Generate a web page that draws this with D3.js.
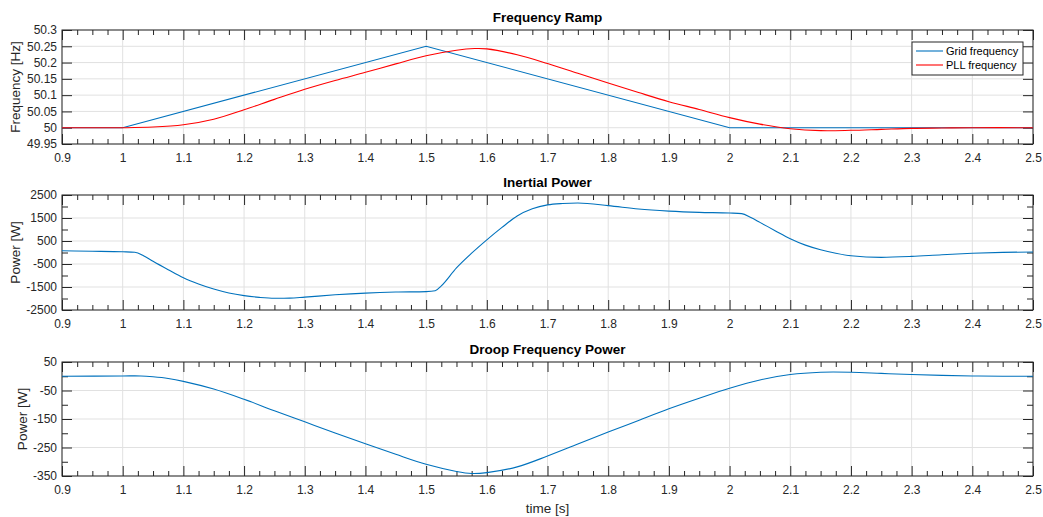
<!DOCTYPE html>
<html>
<head>
<meta charset="utf-8">
<script src="https://cdn.jsdelivr.net/npm/d3@7"></script>
<style>
  body { margin: 0; background: #fff; }
  svg { font-family: "Liberation Sans", Arial, sans-serif; }
  .axis text { font-size: 12px; fill: #262626; }
  .axis line, .axis path { stroke: #262626; }
  .grid line { stroke: #e1e1e1; stroke-width: 1; }
  .title { font-size: 13.5px; font-weight: bold; fill: #000; }
  .label { font-size: 13.5px; fill: #262626; }
  .legend text { font-size: 11px; fill: #000; }
</style>
</head>
<body>
<div id="chart"></div>
<script>

// grid frequency (piecewise ramp)
var gridT = [0.9, 1.0, 1.5, 2.0, 2.5];
var gridF = [50, 50, 50.25, 50, 50];

// PLL frequency
var pllT = [0.9, 0.95, 1.0, 1.05, 1.1, 1.15, 1.2, 1.25, 1.3, 1.35, 1.4, 1.45, 1.5, 1.55, 1.58, 1.6,
            1.65, 1.7, 1.75, 1.8, 1.85, 1.9, 1.95, 2.0, 2.05, 2.1, 2.15, 2.2, 2.25, 2.3, 2.35, 2.4, 2.5];
var pllF = [50, 50, 50, 50.002, 50.009, 50.026, 50.055, 50.087, 50.118, 50.145, 50.170, 50.196, 50.221,
            50.238, 50.243, 50.242, 50.224, 50.197, 50.167, 50.137, 50.108, 50.080, 50.056, 50.031,
            50.011, 49.997, 49.991, 49.992, 49.995, 49.998, 49.999, 50, 50];

// inertial power
var inertT = [0.9, 0.95, 1.0, 1.02, 1.035, 1.05, 1.075, 1.1, 1.125, 1.15, 1.175, 1.2, 1.225, 1.25, 1.275,
              1.3, 1.35, 1.4, 1.45, 1.5, 1.515, 1.525, 1.55, 1.575, 1.6, 1.625, 1.65, 1.675, 1.7, 1.725,
              1.75, 1.8, 1.85, 1.9, 1.95, 2.0, 2.02, 2.035, 2.05, 2.075, 2.1, 2.125, 2.15, 2.175, 2.2,
              2.25, 2.3, 2.35, 2.4, 2.45, 2.5];
var inertP = [75, 55, 30, 10, -150, -384, -750, -1100, -1370, -1590, -1760, -1875, -1950, -1990, -1985,
              -1940, -1840, -1765, -1720, -1700, -1665, -1450, -670, -30, 550, 1090, 1590, 1900, 2070, 2130,
              2150, 2040, 1890, 1800, 1745, 1717, 1690, 1520, 1310, 950, 600, 320, 120, -30, -140,
              -210, -170, -95, -35, 5, 20];

// droop frequency power
var droopT = [0.9, 1.0, 1.03, 1.05, 1.075, 1.1, 1.15, 1.2, 1.25, 1.3, 1.35, 1.4, 1.45, 1.5, 1.55, 1.575,
              1.6, 1.65, 1.7, 1.75, 1.8, 1.85, 1.9, 1.95, 2.0, 2.05, 2.1, 2.15, 2.2, 2.25, 2.3, 2.35,
              2.4, 2.45, 2.5];
var droopP = [0, 1, 1, -2, -8, -18, -45, -81, -121, -160, -199, -237, -274, -309, -334, -341,
              -338, -318, -280, -238, -196, -155, -114, -77, -42, -13, 6, 14, 14, 10, 6, 3,
              1, 0, 0];

var xTicks = [0.9, 1, 1.1, 1.2, 1.3, 1.4, 1.5, 1.6, 1.7, 1.8, 1.9, 2, 2.1, 2.2, 2.3, 2.4, 2.5];

var W = 1043, H = 517;
var left = 62, right = 1033;

var svg = d3.select("#chart").append("svg")
  .attr("width", W)
  .attr("height", H);

function zip(t, v) {
  return t.map(function(d, i) { return {t: d, y: v[i]}; });
}

function createPanel(geom) {
  var ax = Object();
  var x = d3.scaleLinear().domain([0.9, 2.5]).range([left, right]),
      y = d3.scaleLinear().domain(geom.yDomain).range([geom.bottom, geom.top]);

  var xMinor = d3.range(0, 65).map(function(i) { return 0.9 + i * 0.025; })
    .filter(function(d) { return Math.abs(d * 10 - Math.round(d * 10)) > 1e-6; });

  var g = svg.append("g");

  // grid
  var grid = g.append("g").attr("class", "grid");
  grid.selectAll(".gx").data(xTicks).enter().append("line")
    .attr("x1", function(d) { return x(d); })
    .attr("x2", function(d) { return x(d); })
    .attr("y1", geom.top).attr("y2", geom.bottom);
  grid.selectAll(".gy").data(geom.yTicks).enter().append("line")
    .attr("x1", left).attr("x2", right)
    .attr("y1", function(d) { return y(d); })
    .attr("y2", function(d) { return y(d); });

  // axes, ticks pointing inward
  var fmt = geom.fmt || function(d) { return d; };
  g.append("g").attr("class", "axis")
    .attr("transform", "translate(0," + geom.bottom + ")")
    .call(d3.axisBottom(x).tickValues(xTicks).tickSizeInner(-10).tickSizeOuter(0).tickPadding(9)
      .tickFormat(function(d) { return +d.toFixed(2); }));
  g.append("g").attr("class", "axis")
    .attr("transform", "translate(0," + geom.bottom + ")")
    .call(d3.axisBottom(x).tickValues(xMinor).tickSizeInner(-5).tickSizeOuter(0).tickFormat(""));
  g.append("g").attr("class", "axis")
    .attr("transform", "translate(0," + geom.top + ")")
    .call(d3.axisTop(x).tickValues(xTicks).tickSizeInner(-10).tickSizeOuter(0).tickFormat(""));
  g.append("g").attr("class", "axis")
    .attr("transform", "translate(0," + geom.top + ")")
    .call(d3.axisTop(x).tickValues(xMinor).tickSizeInner(-5).tickSizeOuter(0).tickFormat(""));

  g.append("g").attr("class", "axis")
    .attr("transform", "translate(" + left + ",0)")
    .call(d3.axisLeft(y).tickValues(geom.yTicks).tickSizeInner(-10).tickSizeOuter(0).tickPadding(5)
      .tickFormat(fmt));
  g.append("g").attr("class", "axis")
    .attr("transform", "translate(" + right + ",0)")
    .call(d3.axisRight(y).tickValues(geom.yTicks).tickSizeInner(-10).tickSizeOuter(0).tickFormat(""));
  if (geom.yMinor) {
    g.append("g").attr("class", "axis")
      .attr("transform", "translate(" + left + ",0)")
      .call(d3.axisLeft(y).tickValues(geom.yMinor).tickSizeInner(-6).tickSizeOuter(0).tickFormat(""));
    g.append("g").attr("class", "axis")
      .attr("transform", "translate(" + right + ",0)")
      .call(d3.axisRight(y).tickValues(geom.yMinor).tickSizeInner(-6).tickSizeOuter(0).tickFormat(""));
  }
  g.selectAll(".axis .domain").remove();

  g.append("rect")
    .attr("x", left).attr("y", geom.top)
    .attr("width", right - left).attr("height", geom.bottom - geom.top)
    .attr("fill", "none").attr("stroke", "#262626").attr("stroke-width", 1);

  g.append("text").attr("class", "title")
    .attr("x", (left + right) / 2).attr("y", geom.top - 8)
    .attr("text-anchor", "middle")
    .text(geom.title);

  g.append("text").attr("class", "label")
    .attr("transform", "translate(" + geom.labelX + "," + (geom.top + geom.bottom) / 2 + ") rotate(-90)")
    .attr("text-anchor", "middle")
    .attr("dy", "0.35em")
    .text(geom.label);

  ax.g = g;
  ax.x = x;
  ax.y = y;
  return ax;
}

function addLine(ax, data, color, curve) {
  var line = d3.line()
    .x(function(d) { return ax.x(d.t); })
    .y(function(d) { return ax.y(d.y); })
    .curve(curve || d3.curveCatmullRom.alpha(0.5));
  ax.g.append("path").datum(data)
    .attr("fill", "none")
    .attr("stroke", color)
    .attr("stroke-width", 1.1)
    .attr("d", line);
}

var ax1 = createPanel({
  top: 30, bottom: 144, yDomain: [49.95, 50.3],
  yTicks: [49.95, 50, 50.05, 50.1, 50.15, 50.2, 50.25, 50.3],
  fmt: function(d) { return +d.toFixed(2); },
  title: "Frequency Ramp", label: "Frequency [Hz]", labelX: 15
});
addLine(ax1, zip(gridT, gridF), "#0072BD", d3.curveLinear);
addLine(ax1, zip(pllT, pllF), "#FF0000");

var ax2 = createPanel({
  top: 195, bottom: 310, yDomain: [-2500, 2500],
  yTicks: [-2500, -1500, -500, 500, 1500, 2500],
  yMinor: [-2000, -1000, 0, 1000, 2000],
  title: "Inertial Power", label: "Power [W]", labelX: 15
});
addLine(ax2, zip(inertT, inertP), "#0072BD", d3.curveMonotoneX);

var ax3 = createPanel({
  top: 362, bottom: 476, yDomain: [-350, 50],
  yTicks: [-350, -250, -150, -50, 50],
  yMinor: [-300, -200, -100, 0],
  title: "Droop Frequency Power", label: "Power [W]", labelX: 22
});
addLine(ax3, zip(droopT, droopP), "#0072BD");

svg.append("text").attr("class", "label")
  .attr("x", (left + right) / 2).attr("y", 513)
  .attr("text-anchor", "middle")
  .text("time [s]");

// legend
var legendItems = ["Grid frequency", "PLL frequency"];
var legendColors = ["#0072BD", "#FF0000"];
var lg = svg.append("g").attr("class", "legend");
lg.append("rect")
  .attr("x", 912).attr("y", 42).attr("width", 111).attr("height", 33)
  .attr("fill", "#fff").attr("stroke", "#262626").attr("stroke-width", 1);
legendItems.forEach(function(name, i) {
  var yy = 51 + i * 14;
  lg.append("line")
    .attr("x1", 916).attr("x2", 943).attr("y1", yy).attr("y2", yy)
    .attr("stroke", legendColors[i]).attr("stroke-width", 1.1);
  lg.append("text")
    .attr("x", 946).attr("y", yy).attr("dy", "0.35em")
    .text(name);
});

</script>
</body>
</html>
